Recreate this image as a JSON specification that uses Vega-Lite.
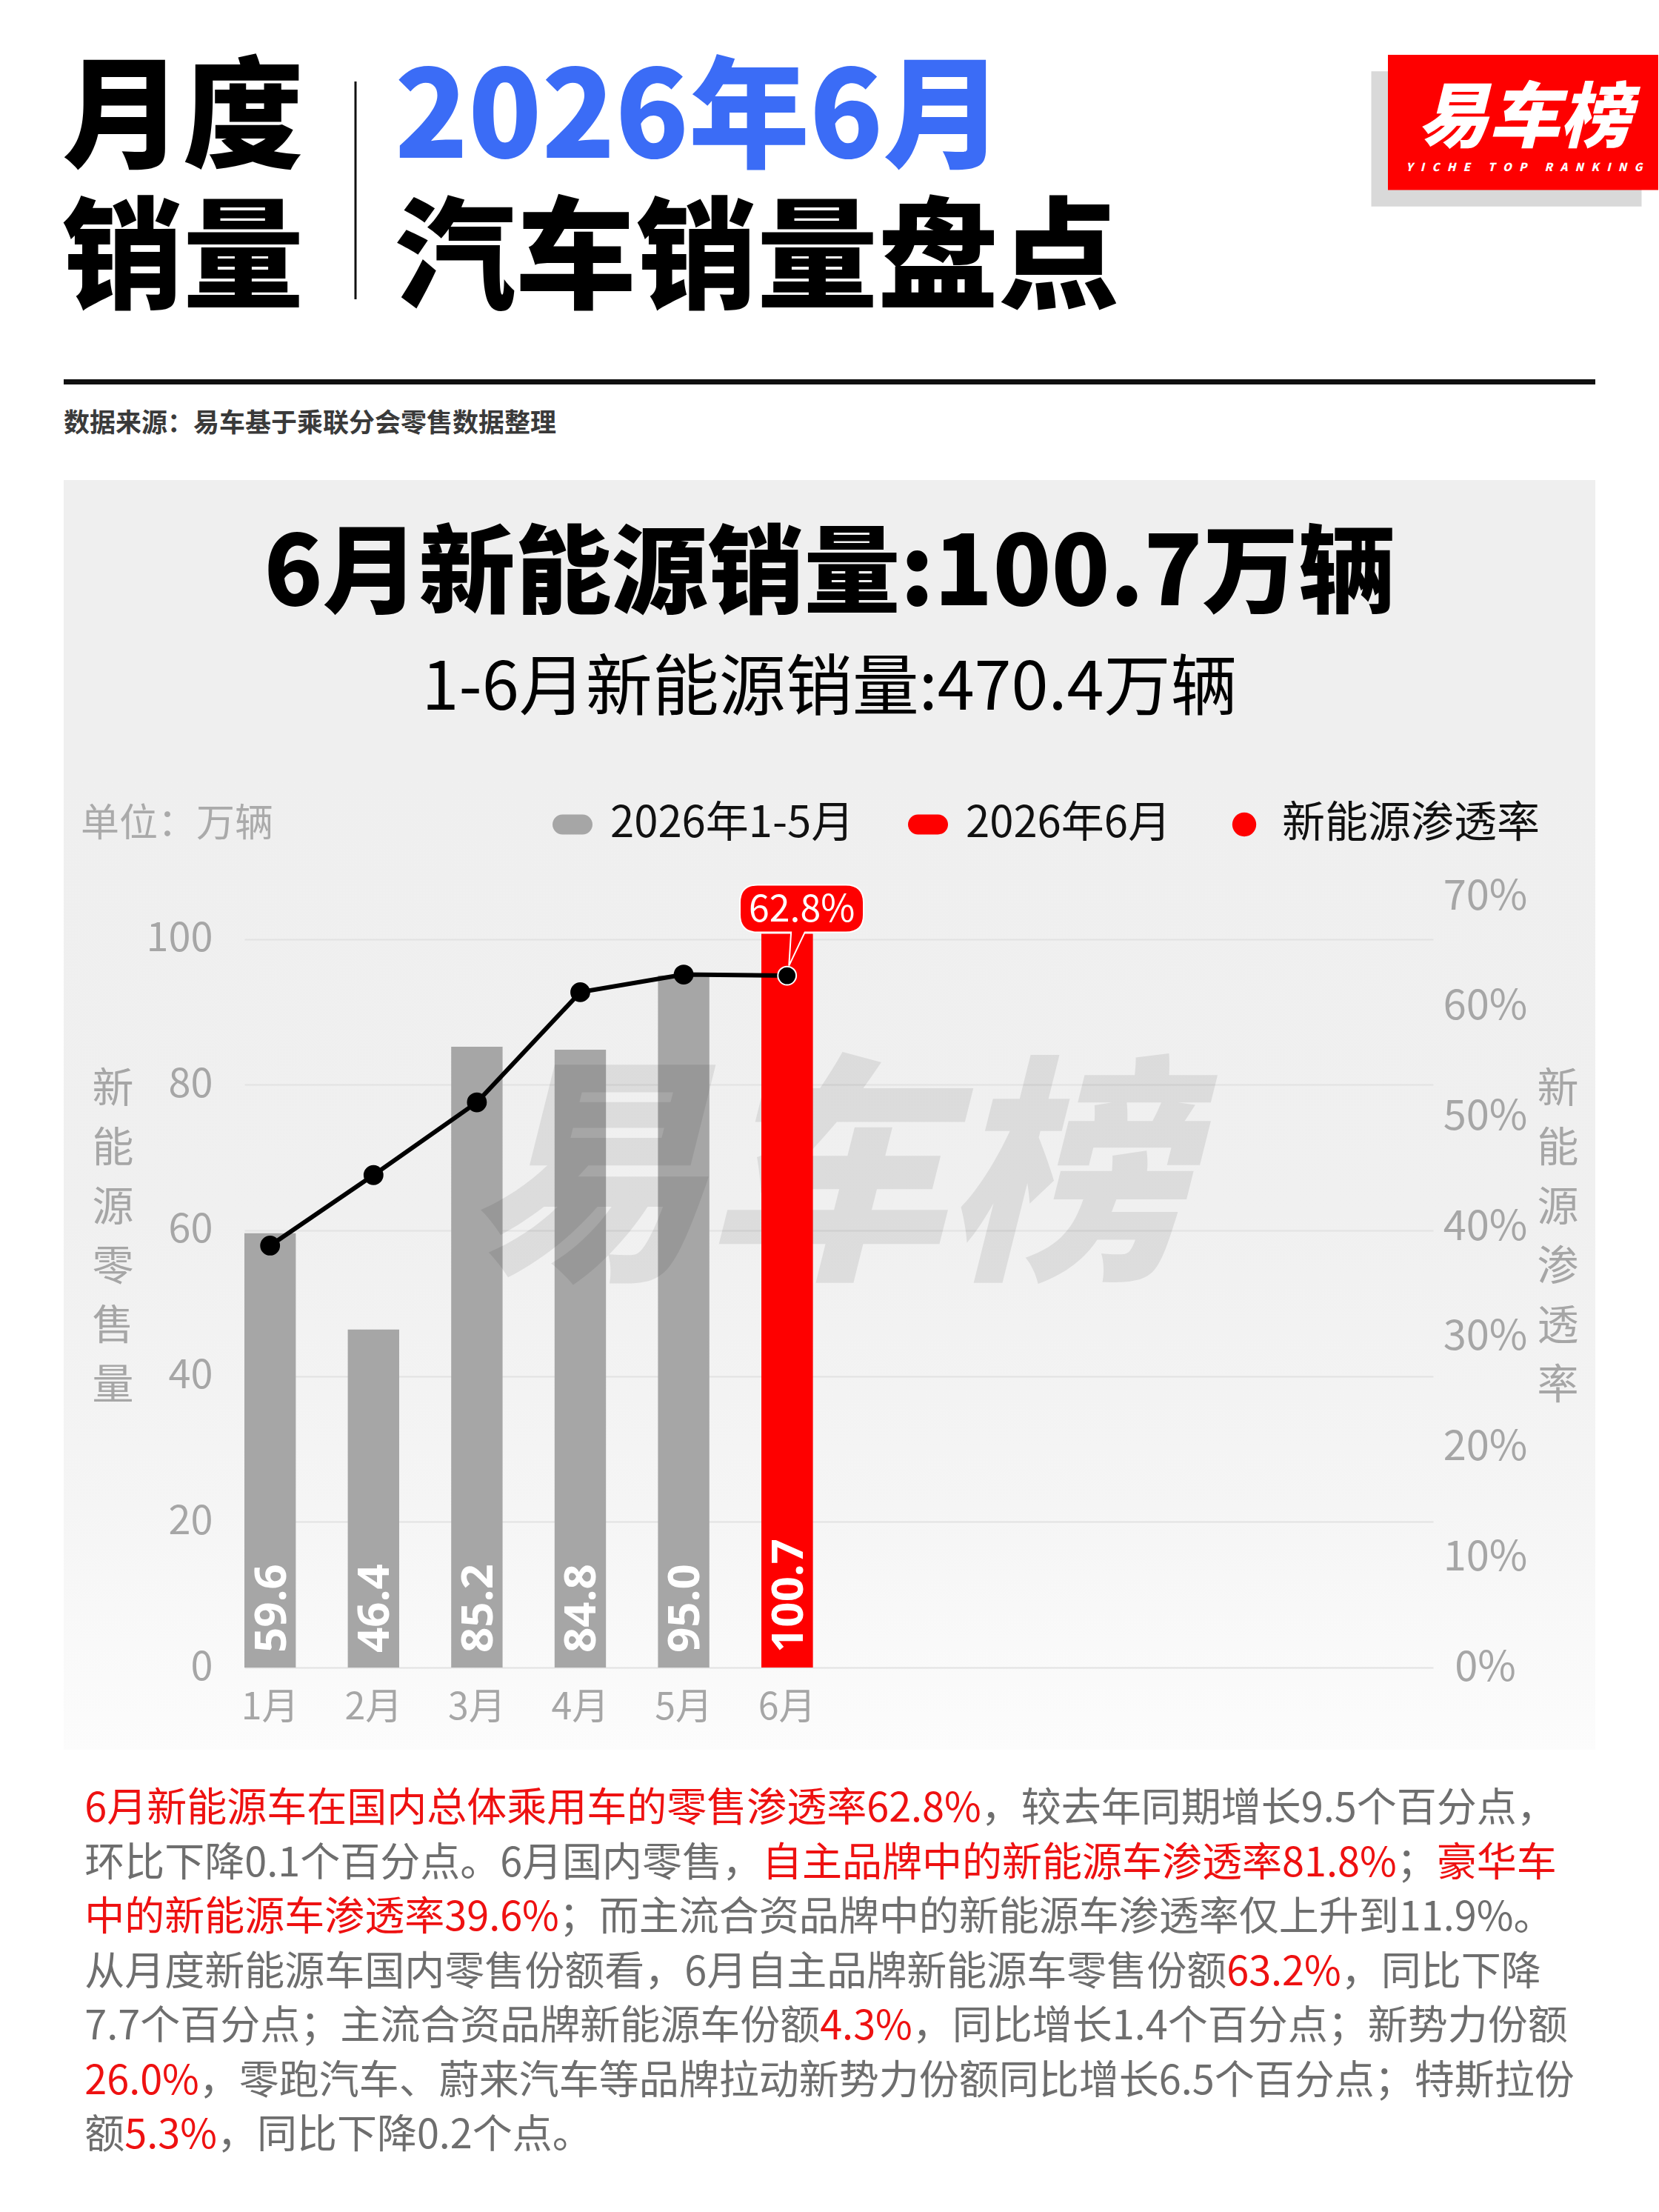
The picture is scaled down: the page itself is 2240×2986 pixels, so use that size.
{
  "$schema": "https://vega.github.io/schema/vega-lite/v6.json",
  "background": "white",
  "padding": 0,
  "spacing": 0,
  "center": true,
  "resolve": {"scale": {"color": "independent", "shape": "independent"}, "legend": {"color": "independent", "shape": "independent"}},
  "config": {
    "font": "Noto Sans CJK SC",
    "view": {"stroke": null},
    "axis": {"labelFont": "Noto Sans CJK SC", "titleFont": "Noto Sans CJK SC"},
    "legend": {"labelFont": "Noto Sans CJK SC", "titleFont": "Noto Sans CJK SC"}
  },
  "datasets": {
    "monthly": [
      {"month": "1月", "sales": 59.6, "pct": 0.383, "period": "2026年1-5月"},
      {"month": "2月", "sales": 46.4, "pct": 0.447, "period": "2026年1-5月"},
      {"month": "3月", "sales": 85.2, "pct": 0.513, "period": "2026年1-5月"},
      {"month": "4月", "sales": 84.8, "pct": 0.613, "period": "2026年1-5月"},
      {"month": "5月", "sales": 95.0, "pct": 0.629, "period": "2026年1-5月"},
      {"month": "6月", "sales": 100.7, "pct": 0.628, "period": "2026年6月"}
    ],
    "paragraph": [
      {"n": 1, "t": "6月新能源车在国内总体乘用车的零售渗透率62.8%，较去年同期增长9.5个百分点，"},
      {"n": 2, "t": "环比下降0.1个百分点。6月国内零售，自主品牌中的新能源车渗透率81.8%；豪华车"},
      {"n": 3, "t": "中的新能源车渗透率39.6%；而主流合资品牌中的新能源车渗透率仅上升到11.9%。"},
      {"n": 4, "t": "从月度新能源车国内零售份额看，6月自主品牌新能源车零售份额63.2%，同比下降"},
      {"n": 5, "t": "7.7个百分点；主流合资品牌新能源车份额4.3%，同比增长1.4个百分点；新势力份额"},
      {"n": 6, "t": "26.0%，零跑汽车、蔚来汽车等品牌拉动新势力份额同比增长6.5个百分点；特斯拉份"},
      {"n": 7, "t": "额5.3%，同比下降0.2个点。"}
    ]
  },
  "vconcat": [
    {
      "width": 2240,
      "height": 648,
      "layer": [
        {
          "data": {"values": [
            {"text": "月度", "col": "a", "row": "1"},
            {"text": "销量", "col": "a", "row": "2"},
            {"text": "2026年6月", "col": "b", "row": "1"},
            {"text": "汽车销量盘点", "col": "b", "row": "2"}
          ]},
          "mark": {"type": "text", "align": "left", "baseline": "middle", "fontSize": 163, "fontWeight": 900},
          "encoding": {
            "x": {"field": "col", "type": "nominal", "axis": null, "scale": {"type": "point", "domain": ["a", "b"], "range": [84, 533], "padding": 0}},
            "y": {"field": "row", "type": "nominal", "axis": null, "scale": {"type": "point", "domain": ["1", "2"], "range": [164, 354], "padding": 0}},
            "text": {"field": "text", "type": "nominal"},
            "color": {"condition": {"test": "datum.text === '2026年6月'", "value": "#3b6cf6"}, "value": "#000000"}
          }
        },
        {
          "data": {"values": [{"part": "shadow"}, {"part": "box"}]},
          "mark": {"type": "point", "shape": "M-1,-0.5H1V0.5H-1Z", "size": 133225, "filled": true, "opacity": 1, "strokeWidth": 0},
          "encoding": {
            "x": {"field": "part", "type": "nominal", "axis": null, "scale": {"type": "point", "domain": ["shadow", "box"], "range": [2034, 2056.5], "padding": 0}},
            "y": {"field": "part", "type": "nominal", "axis": null, "scale": {"type": "point", "domain": ["shadow", "box"], "range": [187.5, 165.25], "padding": 0}},
            "color": {"condition": {"test": "datum.part === 'box'", "value": "#fe0000"}, "value": "#d9d9d9"}
          }
        },
        {
          "data": {"values": [
            {"k": "name", "text": "易车榜"},
            {"k": "tag", "text": "Y\u00a0\u00a0\u00a0I\u00a0\u00a0\u00a0C\u00a0\u00a0\u00a0H\u00a0\u00a0\u00a0E\u00a0\u00a0\u00a0\u00a0\u00a0\u00a0\u00a0T\u00a0\u00a0\u00a0O\u00a0\u00a0\u00a0P\u00a0\u00a0\u00a0\u00a0\u00a0\u00a0\u00a0R\u00a0\u00a0\u00a0A\u00a0\u00a0\u00a0N\u00a0\u00a0\u00a0K\u00a0\u00a0\u00a0I\u00a0\u00a0\u00a0N\u00a0\u00a0\u00a0G"}
          ]},
          "mark": {"type": "text", "align": "center", "baseline": "middle", "fontWeight": 900, "fontStyle": "italic", "color": "#ffffff"},
          "encoding": {
            "x": {"field": "k", "type": "nominal", "axis": null, "scale": {"type": "point", "domain": ["name", "tag"], "range": [2058, 2058], "padding": 0}},
            "y": {"field": "k", "type": "nominal", "axis": null, "scale": {"type": "point", "domain": ["name", "tag"], "range": [162, 226], "padding": 0}},
            "size": {"condition": {"test": "datum.k === 'name'", "value": 96}, "value": 15},
            "text": {"field": "text", "type": "nominal"}
          }
        },
        {
          "data": {"values": [{"part": "divider"}, {"part": "rule"}]},
          "mark": {"type": "point", "filled": false, "opacity": 1, "color": "#111111"},
          "encoding": {
            "x": {"field": "part", "type": "nominal", "axis": null, "scale": {"type": "point", "domain": ["divider", "rule"], "range": [480, 1120], "padding": 0}},
            "y": {"field": "part", "type": "nominal", "axis": null, "scale": {"type": "point", "domain": ["divider", "rule"], "range": [257, 515.5], "padding": 0}},
            "shape": {"condition": {"test": "datum.part === 'divider'", "value": "M0,-1V1"}, "value": "M-1,0H1"},
            "size": {"condition": {"test": "datum.part === 'divider'", "value": 86436}, "value": 4276624},
            "strokeWidth": {"condition": {"test": "datum.part === 'divider'", "value": 3}, "value": 7}
          }
        },
        {
          "data": {"values": [{"text": "数据来源：易车基于乘联分会零售数据整理"}]},
          "mark": {"type": "text", "align": "left", "baseline": "middle", "fontSize": 35, "fontWeight": "bold", "color": "#3a3a3a"},
          "encoding": {
            "text": {"field": "text", "type": "nominal"},
            "x": {"field": "text", "type": "nominal", "axis": null, "scale": {"type": "point", "range": [86, 86], "padding": 0}},
            "y": {"field": "text", "type": "nominal", "axis": null, "scale": {"type": "point", "range": [572, 572], "padding": 0}}
          }
        }
      ],
      "resolve": {"scale": {"x": "independent", "y": "independent"}}
    },
    {
      "width": 2068,
      "height": 400,
      "view": {"fill": "#efefef", "stroke": null},
      "data": {"values": [
        {"role": "main", "text": "6月新能源销量:100.7万辆"},
        {"role": "sub", "text": "1-6月新能源销量:470.4万辆"}
      ]},
      "encoding": {
        "y": {"field": "role", "type": "nominal", "axis": null, "scale": {"type": "point", "domain": ["main", "sub"], "range": [130, 282.5], "padding": 0}},
        "text": {"field": "text", "type": "nominal"}
      },
      "layer": [
        {
          "transform": [{"filter": "datum.role === 'main'"}],
          "mark": {"type": "text", "baseline": "middle", "fontSize": 130, "fontWeight": 900, "color": "#000000"}
        },
        {
          "transform": [{"filter": "datum.role === 'sub'"}],
          "mark": {"type": "text", "baseline": "middle", "fontSize": 90, "fontWeight": "normal", "color": "#000000"}
        }
      ]
    },
    {
      "width": 2068,
      "height": 1314,
      "view": {"stroke": null, "fill": {"gradient": "linear", "x1": 0, "y1": 0, "x2": 0, "y2": 1, "stops": [
        {"offset": 0, "color": "#efefef"},
        {"offset": 0.45, "color": "#f0f0f0"},
        {"offset": 0.75, "color": "#f5f5f5"},
        {"offset": 1, "color": "#fcfcfc"}
      ]}},
      "layer": [
        {
          "data": {"name": "monthly"},
          "encoding": {
            "x": {
              "field": "month", "type": "ordinal",
              "scale": {"type": "band", "domain": ["1月", "2月", "3月", "4月", "5月", "6月", "7月", "8月", "9月", "10月", "11月", "12月"], "range": [244, 1849], "paddingInner": 0.503, "paddingOuter": 0},
              "axis": {"orient": "bottom", "offset": -111, "title": null, "domain": false, "ticks": false, "grid": false, "labelFontSize": 50, "labelColor": "#a6a6a6", "labelPadding": 54, "labelBaseline": "middle", "labelAngle": 0, "labelOverlap": false, "labelBound": false, "labelFlush": false, "labelExpr": "indexof(['7月','8月','9月','10月','11月','12月'], datum.label) >= 0 ? '' : datum.label"}
            },
            "y": {
              "field": "sales", "type": "quantitative",
              "scale": {"domain": [0, 105.85], "range": [1203, 162], "nice": false, "zero": false},
              "axis": {"orient": "left", "offset": -244, "values": [0, 20, 40, 60, 80, 100], "domain": false, "ticks": false, "grid": true, "gridColor": "#e2e2e2", "gridWidth": 2, "labelFontSize": 54, "labelColor": "#a6a6a6", "labelPadding": 43,
                "title": ["新", "能", "源", "零", "售", "量"], "titleAngle": 0, "titleX": -178, "titleY": 422, "titleAlign": "center", "titleBaseline": "middle", "titleFontSize": 56, "titleLineHeight": 80, "titleColor": "#a6a6a6", "titleFontWeight": "normal"}
            }
          },
          "layer": [
            {
              "mark": {"type": "bar", "opacity": 1},
              "encoding": {
                "color": {
                  "field": "period", "type": "nominal",
                  "scale": {"domain": ["2026年1-5月", "2026年6月", "新能源渗透率"], "range": ["#a6a6a6", "#fe0000", "#fe0000"]},
                  "legend": {
                    "orient": "none", "legendX": 23, "legendY": 36, "direction": "horizontal", "padding": 0,
                    "title": "单位：万辆", "titleOrient": "left", "titlePadding": 374, "titleFontSize": 52, "titleColor": "#aaaaaa", "titleFontWeight": "normal", "titleLimit": 0,
                    "labelFontSize": 58, "labelColor": "#111111", "labelOffset": 22, "columnPadding": 70, "labelLimit": 0,
                    "symbolSize": 2916, "symbolStrokeWidth": 0, "symbolOpacity": 1,
                    "symbolType": "M-0.5,-0.5H0.5C0.776,-0.5 1,-0.276 1,0C1,0.276 0.776,0.5 0.5,0.5H-0.5C-0.776,0.5 -1,0.276 -1,0C-1,-0.276 -0.776,-0.5 -0.5,-0.5Z"
                  }
                }
              }
            },
            {
              "mark": {"type": "point", "size": 0, "filled": true, "opacity": 1},
              "encoding": {
                "color": {
                  "field": "period", "type": "nominal",
                  "scale": {"domain": ["2026年1-5月", "2026年6月", "新能源渗透率"], "range": ["#a6a6a6", "#fe0000", "#fe0000"]},
                  "legend": {
                    "orient": "none", "legendX": 23, "legendY": 36, "direction": "horizontal", "padding": 0,
                    "title": "单位：万辆", "titleOrient": "left", "titlePadding": 374, "titleFontSize": 52, "titleColor": "#aaaaaa", "titleFontWeight": "normal", "titleLimit": 0,
                    "labelFontSize": 58, "labelColor": "#111111", "labelOffset": 22, "columnPadding": 70, "labelLimit": 0,
                    "symbolSize": 2916, "symbolStrokeWidth": 0, "symbolOpacity": 1,
                    "symbolType": "M-0.5,-0.5H0.5C0.776,-0.5 1,-0.276 1,0C1,0.276 0.776,0.5 0.5,0.5H-0.5C-0.776,0.5 -1,0.276 -1,0C-1,-0.276 -0.776,-0.5 -0.5,-0.5Z"
                  }
                },
                "shape": {
                  "field": "period", "type": "nominal",
                  "scale": {"domain": ["2026年1-5月", "2026年6月", "新能源渗透率"], "range": [
                    "M-0.5,-0.5H0.5C0.776,-0.5 1,-0.276 1,0C1,0.276 0.776,0.5 0.5,0.5H-0.5C-0.776,0.5 -1,0.276 -1,0C-1,-0.276 -0.776,-0.5 -0.5,-0.5Z",
                    "M-0.5,-0.5H0.5C0.776,-0.5 1,-0.276 1,0C1,0.276 0.776,0.5 0.5,0.5H-0.5C-0.776,0.5 -1,0.276 -1,0C-1,-0.276 -0.776,-0.5 -0.5,-0.5Z",
                    "M0,-0.6C0.331,-0.6 0.6,-0.331 0.6,0C0.6,0.331 0.331,0.6 0,0.6C-0.331,0.6 -0.6,0.331 -0.6,0C-0.6,-0.331 -0.331,-0.6 0,-0.6Z"]},
                  "legend": {
                    "orient": "none", "legendX": 23, "legendY": 36, "direction": "horizontal", "padding": 0,
                    "title": "单位：万辆", "titleOrient": "left", "titlePadding": 374, "titleFontSize": 52, "titleColor": "#aaaaaa", "titleFontWeight": "normal", "titleLimit": 0,
                    "labelFontSize": 58, "labelColor": "#111111", "labelOffset": 22, "columnPadding": 70, "labelLimit": 0,
                    "symbolSize": 2916, "symbolStrokeWidth": 0, "symbolOpacity": 1,
                    "symbolType": "M-0.5,-0.5H0.5C0.776,-0.5 1,-0.276 1,0C1,0.276 0.776,0.5 0.5,0.5H-0.5C-0.776,0.5 -1,0.276 -1,0C-1,-0.276 -0.776,-0.5 -0.5,-0.5Z"
                  }
                }
              }
            }
          ]
        },
        {
          "data": {"values": [{}]},
          "mark": {"type": "text", "text": "易车榜", "fontSize": 324, "fontWeight": 900, "fontStyle": "italic", "fill": "#000000", "opacity": 0.08, "align": "center", "baseline": "middle", "dx": -6, "dy": -101}
        },
        {
          "data": {"name": "monthly"},
          "encoding": {
            "x": {
              "field": "month", "type": "ordinal",
              "scale": {"type": "band", "domain": ["1月", "2月", "3月", "4月", "5月", "6月", "7月", "8月", "9月", "10月", "11月", "12月"], "range": [244, 1849], "paddingInner": 0.503, "paddingOuter": 0},
              "axis": {"orient": "bottom", "offset": -111, "title": null, "domain": false, "ticks": false, "grid": false, "labelFontSize": 50, "labelColor": "#a6a6a6", "labelPadding": 54, "labelBaseline": "middle", "labelAngle": 0, "labelOverlap": false, "labelBound": false, "labelFlush": false, "labelExpr": "indexof(['7月','8月','9月','10月','11月','12月'], datum.label) >= 0 ? '' : datum.label"}
            },
            "y": {
              "field": "sales", "type": "quantitative",
              "scale": {"domain": [0, 105.85], "range": [1203, 162], "nice": false, "zero": false},
              "axis": null
            }
          },
          "layer": [
            {
              "transform": [{"filter": "datum.month === '6月'"}],
              "mark": {"type": "bar", "color": "#fe0000", "opacity": 1}
            },
            {
              "mark": {"type": "text", "angle": 270, "align": "left", "baseline": "middle", "dx": 20, "dy": 3, "fontSize": 60, "fontWeight": "bold", "font": "Noto Sans", "fill": "#ffffff"},
              "encoding": {
                "y": {"datum": 0, "type": "quantitative"},
                "text": {"field": "sales", "type": "quantitative", "format": ".1f"}
              }
            }
          ]
        },
        {
          "data": {"name": "monthly"},
          "encoding": {
            "x": {
              "field": "month", "type": "ordinal",
              "scale": {"type": "band", "domain": ["1月", "2月", "3月", "4月", "5月", "6月", "7月", "8月", "9月", "10月", "11月", "12月"], "range": [244, 1849], "paddingInner": 0.503, "paddingOuter": 0},
              "axis": {"orient": "bottom", "offset": -111, "title": null, "domain": false, "ticks": false, "grid": false, "labelFontSize": 50, "labelColor": "#a6a6a6", "labelPadding": 54, "labelBaseline": "middle", "labelAngle": 0, "labelOverlap": false, "labelBound": false, "labelFlush": false, "labelExpr": "indexof(['7月','8月','9月','10月','11月','12月'], datum.label) >= 0 ? '' : datum.label"}
            },
            "y": {
              "field": "pct", "type": "quantitative",
              "scale": {"domain": [0, 0.7], "range": [1203, 162], "nice": false, "zero": false},
              "axis": {"orient": "right", "offset": -219, "values": [0, 0.1, 0.2, 0.3, 0.4, 0.5, 0.6, 0.7], "format": ".0%", "domain": false, "ticks": false, "grid": false, "labelFontSize": 56, "labelColor": "#a6a6a6", "labelPadding": 70, "labelAlign": "center",
                "title": ["新", "能", "源", "渗", "透", "率"], "titleAngle": 0, "titleX": 168, "titleY": 422, "titleAlign": "center", "titleBaseline": "middle", "titleFontSize": 56, "titleLineHeight": 80, "titleColor": "#a6a6a6", "titleFontWeight": "normal"}
            }
          },
          "layer": [
            {"mark": {"type": "line", "color": "#000000", "strokeWidth": 6}},
            {
              "transform": [{"filter": "datum.month === '6月'"}],
              "mark": {"type": "point", "shape": "M-1.24,-3.83H2.48Q3.23,-3.83 3.23,-3.08V-2.58Q3.23,-1.83 2.48,-1.83H0.75L0.08,-0.42L0.17,-1.83H-1.24Q-1.99,-1.83 -1.99,-2.58V-3.08Q-1.99,-3.83 -1.24,-3.83Z", "size": 4096, "filled": true, "fill": "#fe0000", "stroke": "#ffffff", "strokeWidth": 2, "opacity": 1}
            },
            {
              "mark": {"type": "point", "filled": true, "size": 616, "color": "#000000", "opacity": 1, "strokeWidth": 2},
              "encoding": {"stroke": {"condition": {"test": "datum.month === '6月'", "value": "#ffffff"}, "value": "#000000"}}
            },
            {
              "transform": [{"filter": "datum.month === '6月'"}],
              "mark": {"type": "text", "dx": 20, "dy": -88, "fontSize": 50, "fill": "#ffffff", "align": "center", "baseline": "middle"},
              "encoding": {"text": {"field": "pct", "type": "quantitative", "format": ".1%"}}
            }
          ]
        }
      ],
      "resolve": {"scale": {"y": "independent"}}
    },
    {
      "width": 1995,
      "height": 624,
      "data": {"name": "paragraph"},
      "encoding": {
        "y": {"field": "n", "type": "ordinal", "axis": null, "scale": {"type": "point", "domain": [1, 2, 3, 4, 5, 6, 7], "range": [81, 522], "padding": 0}},
        "x": {"value": 0},
        "text": {"field": "t", "type": "nominal"}
      },
      "layer": [
        {"transform": [{"filter": "datum.n === 1"}], "mark": {"type": "text", "align": "left", "baseline": "middle", "fontSize": 54, "fill": {"gradient": "linear", "x1": 0, "y1": 0, "x2": 1, "y2": 0, "stops": [
          {"offset": 0, "color": "#ee1111"}, {"offset": 0.61, "color": "#ee1111"}, {"offset": 0.61, "color": "#6e6e6e"}, {"offset": 1, "color": "#6e6e6e"}]}}},
        {"transform": [{"filter": "datum.n === 2"}], "mark": {"type": "text", "align": "left", "baseline": "middle", "fontSize": 54, "fill": {"gradient": "linear", "x1": 0, "y1": 0, "x2": 1, "y2": 0, "stops": [
          {"offset": 0, "color": "#6e6e6e"}, {"offset": 0.457, "color": "#6e6e6e"}, {"offset": 0.457, "color": "#ee1111"}, {"offset": 0.8926, "color": "#ee1111"}, {"offset": 0.8926, "color": "#6e6e6e"}, {"offset": 0.9102, "color": "#6e6e6e"}, {"offset": 0.9102, "color": "#ee1111"}, {"offset": 1, "color": "#ee1111"}]}}},
        {"transform": [{"filter": "datum.n === 3"}], "mark": {"type": "text", "align": "left", "baseline": "middle", "fontSize": 54, "fill": {"gradient": "linear", "x1": 0, "y1": 0, "x2": 1, "y2": 0, "stops": [
          {"offset": 0, "color": "#ee1111"}, {"offset": 0.324, "color": "#ee1111"}, {"offset": 0.324, "color": "#6e6e6e"}, {"offset": 1, "color": "#6e6e6e"}]}}},
        {"transform": [{"filter": "datum.n === 4"}], "mark": {"type": "text", "align": "left", "baseline": "middle", "fontSize": 54, "fill": {"gradient": "linear", "x1": 0, "y1": 0, "x2": 1, "y2": 0, "stops": [
          {"offset": 0, "color": "#6e6e6e"}, {"offset": 0.785, "color": "#6e6e6e"}, {"offset": 0.785, "color": "#ee1111"}, {"offset": 0.8639, "color": "#ee1111"}, {"offset": 0.8639, "color": "#6e6e6e"}, {"offset": 1, "color": "#6e6e6e"}]}}},
        {"transform": [{"filter": "datum.n === 5"}], "mark": {"type": "text", "align": "left", "baseline": "middle", "fontSize": 54, "fill": {"gradient": "linear", "x1": 0, "y1": 0, "x2": 1, "y2": 0, "stops": [
          {"offset": 0, "color": "#6e6e6e"}, {"offset": 0.4964, "color": "#6e6e6e"}, {"offset": 0.4964, "color": "#ee1111"}, {"offset": 0.5589, "color": "#ee1111"}, {"offset": 0.5589, "color": "#6e6e6e"}, {"offset": 1, "color": "#6e6e6e"}]}}},
        {"transform": [{"filter": "datum.n === 6"}], "mark": {"type": "text", "align": "left", "baseline": "middle", "fontSize": 54, "fill": {"gradient": "linear", "x1": 0, "y1": 0, "x2": 1, "y2": 0, "stops": [
          {"offset": 0, "color": "#ee1111"}, {"offset": 0.0772, "color": "#ee1111"}, {"offset": 0.0772, "color": "#6e6e6e"}, {"offset": 1, "color": "#6e6e6e"}]}}},
        {"transform": [{"filter": "datum.n === 7"}], "mark": {"type": "text", "align": "left", "baseline": "middle", "fontSize": 54, "fill": {"gradient": "linear", "x1": 0, "y1": 0, "x2": 1, "y2": 0, "stops": [
          {"offset": 0, "color": "#6e6e6e"}, {"offset": 0.079, "color": "#6e6e6e"}, {"offset": 0.079, "color": "#ee1111"}, {"offset": 0.2621, "color": "#ee1111"}, {"offset": 0.2621, "color": "#6e6e6e"}, {"offset": 1, "color": "#6e6e6e"}]}}}
      ]
    }
  ]
}
